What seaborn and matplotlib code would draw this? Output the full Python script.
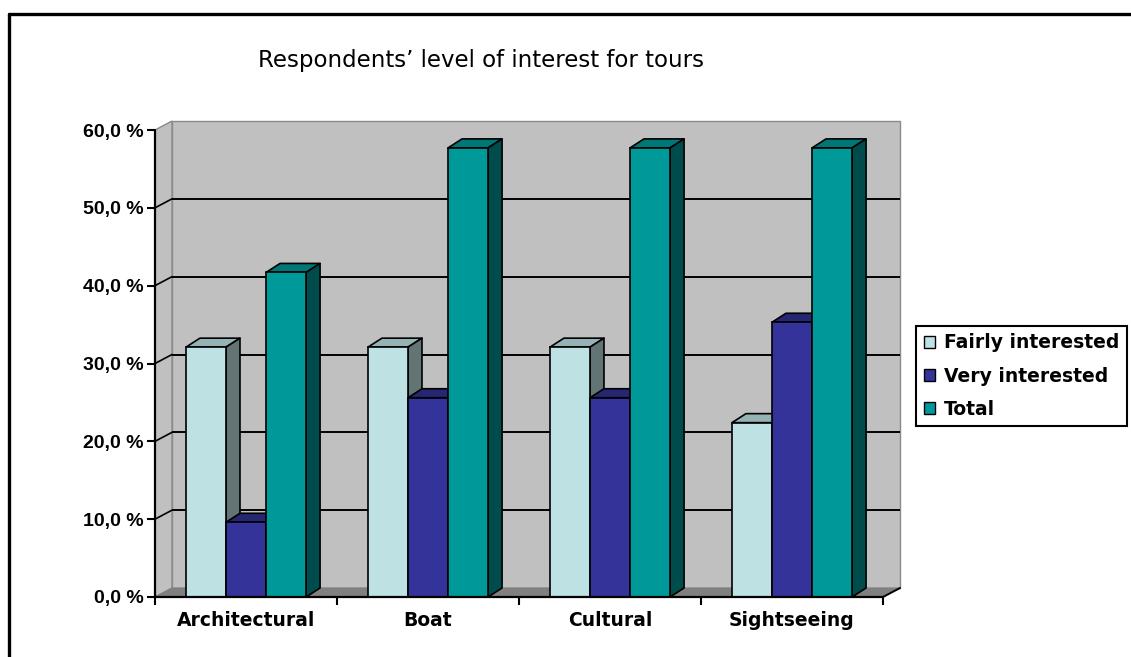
import matplotlib
matplotlib.use("Agg")
import matplotlib.pyplot as plt
import seaborn as sns
import pandas as pd
from matplotlib.patches import Polygon, Patch
from matplotlib.lines import Line2D

# ---- data -------------------------------------------------------------
categories = ["Architectural", "Boat", "Cultural", "Sightseeing"]
series = ["Fairly interested", "Very interested", "Total"]
fairly = [32.1, 32.1, 32.1, 22.4]
very = [9.6, 25.6, 25.6, 35.3]
total = [41.7, 57.7, 57.7, 57.7]
y_ticks = [0, 10, 20, 30, 40, 50, 60]
y_tick_labels = ["0,0 %", "10,0 %", "20,0 %", "30,0 %", "40,0 %", "50,0 %", "60,0 %"]
title = "Respondents\u2019 level of interest for tours"

# ---- styling ----------------------------------------------------------
front_colors = {"Fairly interested": "#BEE1E4",
                "Very interested": "#333399",
                "Total": "#009999"}
top_colors = {"Fairly interested": "#95B2B5",
              "Very interested": "#262673",
              "Total": "#007777"}
side_colors = {"Fairly interested": "#637474",
               "Very interested": "#1C1C55",
               "Total": "#004C4C"}

W, H, DPI = 1131, 657, 100
sns.set_theme(style="white")
plt.rcParams["font.family"] = ["DejaVu Sans"]
plt.rcParams["text.color"] = "black"
plt.rcParams["axes.labelcolor"] = "black"
plt.rcParams["xtick.color"] = "black"
plt.rcParams["ytick.color"] = "black"

df = pd.DataFrame({
    "category": categories * 3,
    "series": [s for s in series for _ in categories],
    "value": fairly + very + total,
})

fig = plt.figure(figsize=(W / DPI, H / DPI), dpi=DPI)
fig.patch.set_facecolor("white")

# axes box = front plane of the 3-D chart
ax_l, ax_r, ax_b, ax_t = 155, 883, 597, 130
ax = fig.add_axes([ax_l / W, (H - ax_b) / H, (ax_r - ax_l) / W, (ax_b - ax_t) / H])
ax.set_xlim(-0.5, 3.5)
ax.set_ylim(0, 60)
ax.patch.set_visible(False)
for s in ax.spines.values():
    s.set_visible(False)

# pixel -> data conversion factors for the depth offsets
px_x = 4.0 / (ax_r - ax_l)
px_y = 60.0 / (ax_b - ax_t)
wdx, wdy = 17 * px_x, 9 * px_y       # wall depth
bdx, bdy = 14 * px_x, 9 * px_y       # bar depth

# back wall, left wall, floor
ax.add_patch(Polygon([(-0.5 + wdx, wdy), (3.5 + wdx, wdy), (3.5 + wdx, 60 + wdy),
                      (-0.5 + wdx, 60 + wdy)], closed=True, fc="#C0C0C0",
                     ec="#8A8A8A", lw=1.0, zorder=0.5, clip_on=False))
ax.add_patch(Polygon([(-0.5, 0), (-0.5, 60), (-0.5 + wdx, 60 + wdy), (-0.5 + wdx, wdy)],
                     closed=True, fc="#C0C0C0", ec="#8A8A8A", lw=1.0,
                     zorder=0.5, clip_on=False))
ax.add_patch(Polygon([(-0.5, 0), (3.5, 0), (3.5 + wdx, wdy), (-0.5 + wdx, wdy)],
                     closed=True, fc="#808080", ec="#808080", lw=0.8,
                     zorder=0.6, clip_on=False))

# gridlines on the back wall and on the side wall
for yv in y_ticks[1:-1]:
    ax.plot([-0.5 + wdx, 3.5 + wdx], [yv + wdy, yv + wdy], color="black", lw=1.4,
            zorder=0.7, clip_on=False, solid_capstyle="butt")
for yv in y_ticks[1:-1]:
    ax.plot([-0.5, -0.5 + wdx], [yv, yv + wdy], color="black", lw=1.2,
            zorder=0.7, clip_on=False)

# bars
sns.barplot(data=df, x="category", y="value", hue="series", order=categories,
            hue_order=series, palette=front_colors, width=0.66, saturation=1,
            edgecolor="black", linewidth=1.2, legend=False, ax=ax)
ax.set_xlim(-0.5, 3.5)
ax.set_ylim(0, 60)

bars = sorted([p for p in ax.patches if hasattr(p, "get_width") and p.get_height() > 0
               and p.get_width() < 0.5], key=lambda p: p.get_x())
for i, bar in enumerate(bars):
    x0 = bar.get_x()
    x1 = x0 + bar.get_width()
    h = bar.get_height()
    name = series[i % 3]
    base = 2 + i * 0.1
    bar.set_zorder(base + 0.05)
    bar.set_clip_on(False)
    ax.add_patch(Polygon([(x0, h), (x1, h), (x1 + bdx, h + bdy), (x0 + bdx, h + bdy)],
                         closed=True, fc=top_colors[name], ec="black", lw=1.2,
                         zorder=base, clip_on=False, joinstyle="round"))
    ax.add_patch(Polygon([(x1, 0), (x1, h), (x1 + bdx, h + bdy), (x1 + bdx, bdy)],
                         closed=True, fc=side_colors[name], ec="black", lw=1.2,
                         zorder=base, clip_on=False, joinstyle="round"))

# front axes lines
ax.plot([-0.5, -0.5], [0, 60], color="black", lw=1.6, zorder=5, clip_on=False)
ax.plot([-0.5, 3.5], [0, 0], color="black", lw=1.6, zorder=5, clip_on=False)
ax.plot([3.5, 3.5 + wdx], [0, wdy], color="black", lw=1.4, zorder=5, clip_on=False)

# y ticks (outward) and labels
ax.set_yticks(y_ticks)
ax.set_yticklabels(y_tick_labels, fontfamily="Liberation Sans", fontweight="bold",
                   fontsize=14, color="black")
ax.tick_params(axis="y", direction="out", length=6, width=1.5, color="black", pad=2,
               left=True)
# x ticks at category boundaries, labels centred on categories
ax.set_xticks([-0.5, 0.5, 1.5, 2.5, 3.5])
ax.set_xticklabels([])
ax.set_xticks(range(len(categories)), minor=True)
ax.set_xticklabels(categories, minor=True, fontweight="bold", fontsize=13.5,
                   color="black")
ax.tick_params(axis="x", which="major", direction="out", length=6, width=1.5,
               color="black", bottom=True)
ax.tick_params(axis="x", which="minor", length=0, pad=10, bottom=True)
ax.set_xlabel("")
ax.set_ylabel("")

# title
fig.text(481.5 / W, 1 - 61 / H, title, ha="center", va="center",
         fontfamily="DejaVu Sans", fontsize=16.5, color="black")

# legend
handles = [Patch(facecolor=front_colors[s], edgecolor="black", linewidth=1.0, label=s)
           for s in series]
leg = fig.legend(handles=handles, loc="center left",
                 bbox_to_anchor=(916 / W, 1 - 376 / H), frameon=True,
                 fancybox=False, handlelength=0.6, handleheight=0.6,
                 handletextpad=0.5, labelspacing=0.75, borderpad=0.4,
                 borderaxespad=0, prop={"weight": "bold", "size": 13.5},
                 labelcolor="black", framealpha=1)
leg.get_frame().set_edgecolor("black")
leg.get_frame().set_linewidth(1.5)

# outer chart border (top and left edges)
fig.add_artist(Line2D([9 / W, 1.0], [1 - 14 / H, 1 - 14 / H], transform=fig.transFigure,
                      color="black", lw=2.4))
fig.add_artist(Line2D([9 / W, 9 / W], [0, 1 - 14 / H], transform=fig.transFigure,
                      color="black", lw=2.4))

fig.savefig("out.png", dpi=DPI)
